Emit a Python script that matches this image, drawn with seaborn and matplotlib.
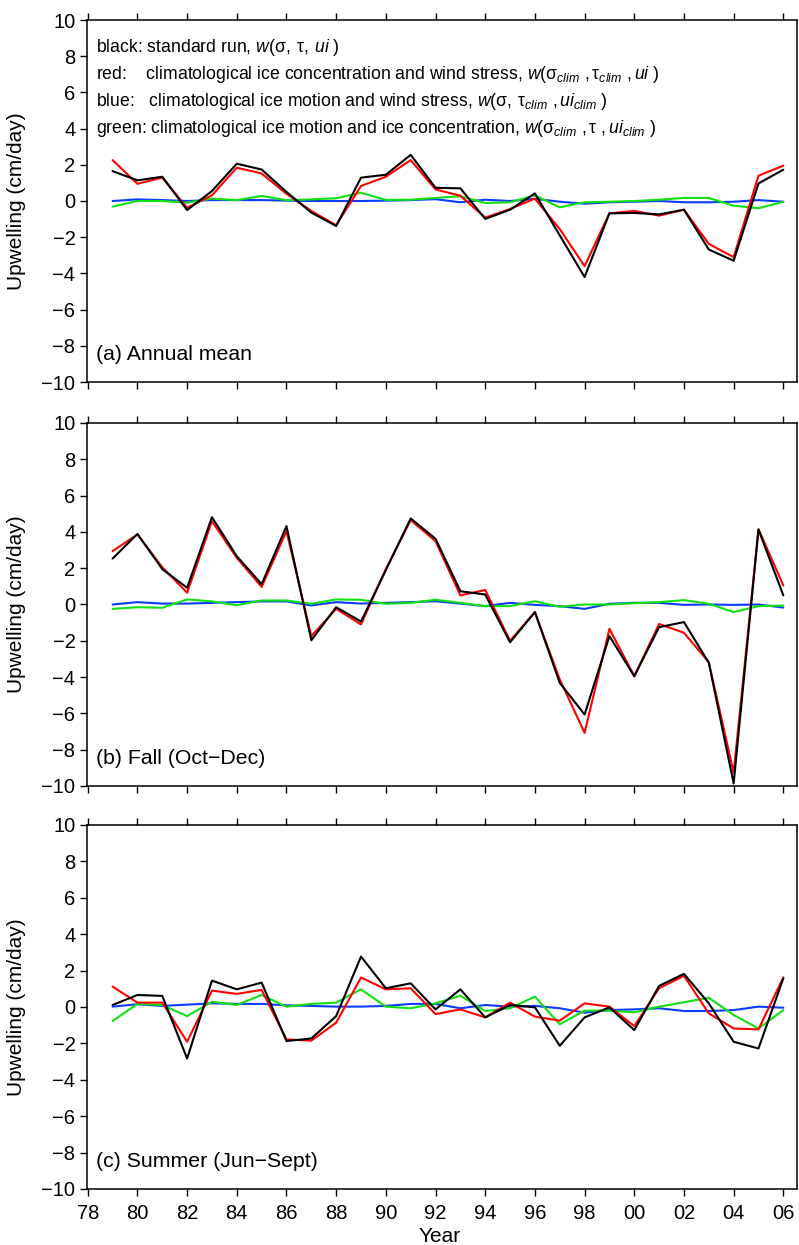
import pandas as pd
import matplotlib
matplotlib.use("Agg")
import matplotlib.pyplot as plt
import seaborn as sns

# years 1979-2006
years = list(range(1979, 2007))

# (a) annual mean
black_a = [1.65, 1.14, 1.34, -0.50, 0.55, 2.06, 1.74, 0.50, -0.64, -1.38, 1.29, 1.45, 2.55, 0.73,
           0.70, -0.99, -0.48, 0.42, -1.90, -4.20, -0.68, -0.66, -0.74, -0.48, -2.68, -3.30, 0.97, 1.73]
red_a = [2.26, 0.95, 1.29, -0.37, 0.31, 1.84, 1.52, 0.40, -0.55, -1.34, 0.83, 1.34, 2.26, 0.64,
         0.29, -0.92, -0.44, 0.13, -1.55, -3.60, -0.68, -0.55, -0.81, -0.48, -2.37, -3.10, 1.40, 1.95]
blue_a = [0.0, 0.09, 0.05, 0.0, 0.05, 0.05, 0.05, 0.02, 0.0, 0.0, 0.0, 0.02, 0.05, 0.10,
          -0.07, 0.07, 0.0, 0.12, -0.04, -0.15, -0.07, -0.04, 0.0, -0.07, -0.07, -0.04, 0.05, -0.04]
green_a = [-0.31, 0.0, 0.0, -0.09, 0.13, 0.05, 0.28, 0.04, 0.09, 0.15, 0.46, 0.06, 0.07, 0.17,
           0.26, -0.11, -0.07, 0.31, -0.35, -0.07, -0.04, 0.0, 0.07, 0.17, 0.17, -0.26, -0.40, -0.04]

# (b) fall
black_b = [2.53, 3.89, 1.95, 0.92, 4.81, 2.66, 1.12, 4.32, -1.97, -0.15, -0.94, 1.90, 4.74, 3.62,
           0.73, 0.55, -2.08, -0.42, -4.32, -6.06, -1.74, -3.95, -1.25, -0.97, -3.21, -9.86, 4.13, 0.50]
red_b = [2.94, 3.86, 2.05, 0.65, 4.59, 2.57, 0.97, 4.04, -1.74, -0.24, -1.10, 1.95, 4.65, 3.49,
         0.50, 0.80, -2.00, -0.42, -4.13, -7.07, -1.34, -3.95, -1.07, -1.56, -3.18, -9.27, 4.15, 1.05]
blue_b = [0.0, 0.13, 0.05, 0.05, 0.09, 0.13, 0.17, 0.17, -0.05, 0.13, 0.05, 0.09, 0.13, 0.18,
          0.05, -0.09, 0.09, -0.02, -0.09, -0.24, 0.04, 0.09, 0.09, -0.02, 0.0, -0.02, 0.0, -0.17]
green_b = [-0.24, -0.15, -0.18, 0.28, 0.17, -0.04, 0.22, 0.22, 0.04, 0.28, 0.26, 0.04, 0.09, 0.26,
           0.09, -0.09, -0.09, 0.18, -0.13, 0.0, 0.0, 0.07, 0.13, 0.24, 0.04, -0.42, -0.09, -0.06]

# (c) summer
black_c = [0.11, 0.66, 0.61, -2.83, 1.45, 0.97, 1.34, -1.87, -1.73, -0.50, 2.77, 1.03, 1.30, -0.13,
           0.97, -0.57, 0.11, -0.02, -2.13, -0.57, -0.02, -1.27, 1.16, 1.82, 0.20, -1.91, -2.28, 1.58]
red_c = [1.12, 0.24, 0.24, -1.91, 0.90, 0.72, 0.94, -1.78, -1.85, -0.86, 1.62, 0.97, 1.03, -0.39,
         -0.13, -0.57, 0.24, -0.53, -0.75, 0.20, 0.02, -1.05, 1.03, 1.71, -0.35, -1.18, -1.23, 1.63]
blue_c = [0.02, 0.15, 0.06, 0.13, 0.20, 0.17, 0.17, 0.09, 0.06, 0.02, 0.02, 0.06, 0.17, 0.17,
          -0.07, 0.11, 0.02, 0.06, -0.07, -0.31, -0.17, -0.13, -0.07, -0.22, -0.22, -0.17, 0.02, -0.04]
green_c = [-0.77, 0.17, 0.11, -0.50, 0.29, 0.11, 0.66, 0.02, 0.17, 0.24, 0.97, 0.02, -0.07, 0.20,
           0.62, -0.22, -0.07, 0.57, -0.95, -0.20, -0.20, -0.29, 0.02, 0.26, 0.51, -0.44, -1.18, -0.17]

panel_titles = ["(a) Annual mean", "(b) Fall (Oct\u2212Dec)", "(c) Summer (Jun\u2212Sept)"]
legend_lines = [
    "black: standard run, " + r"$w(\mathrm{\sigma},\:\mathrm{\tau},\:ui\ )$",
    "red:    climatological ice concentration and wind stress, "
    + r"$w(\mathrm{\sigma}_{clim}\ ,\mathrm{\tau}_{clim}\ ,ui\ )$",
    "blue:   climatological ice motion and wind stress, "
    + r"$w(\mathrm{\sigma},\:\mathrm{\tau}_{clim}\ ,ui_{clim}\ )$",
    "green: climatological ice motion and ice concentration, "
    + r"$w(\mathrm{\sigma}_{clim}\ ,\mathrm{\tau}\ ,ui_{clim}\ )$",
]

sns.set_theme(style="ticks")
plt.rcParams['font.family'] = ['Liberation Sans', 'DejaVu Sans']
plt.rcParams['mathtext.fontset'] = 'custom'
plt.rcParams['mathtext.rm'] = 'Liberation Sans'
plt.rcParams['mathtext.it'] = 'Liberation Sans:italic'
plt.rcParams['axes.linewidth'] = 1.1
plt.rcParams['axes.edgecolor'] = 'black'
plt.rcParams['xtick.color'] = 'black'
plt.rcParams['ytick.color'] = 'black'
plt.rcParams['text.color'] = 'black'

palette = {"blue": "#0a3cff", "green": "#11e011", "red": "#ff0000", "black": "#000000"}
order = ["blue", "green", "red", "black"]

panels = [
    {"black": black_a, "red": red_a, "blue": blue_a, "green": green_a},
    {"black": black_b, "red": red_b, "blue": blue_b, "green": green_b},
    {"black": black_c, "red": red_c, "blue": blue_c, "green": green_c},
]

fig = plt.figure(figsize=(7.99, 12.45), dpi=100)
W, H = 799, 1245
boxes = [(20, 382), (423, 786), (825, 1189)]
left, right = 86.5, 797

for i, (top, bot) in enumerate(boxes):
    ax = fig.add_axes([left / W, 1 - bot / H, (right - left) / W, (bot - top) / H])
    rows = []
    for run in order:
        for y, v in zip(years, panels[i][run]):
            rows.append({"year": y, "value": v, "run": run})
    df = pd.DataFrame(rows)
    sns.lineplot(data=df, x="year", y="value", hue="run", hue_order=order,
                 palette=palette, estimator=None, linewidth=1.5, legend=False, ax=ax)
    ax.set_xlim(1977.95, 2006.55)
    ax.set_ylim(-10, 10)
    ax.set_yticks(range(-10, 11, 2))
    ax.set_xticks(range(1978, 2007, 2))
    ax.set_xticklabels([f"{y % 100:02d}" for y in range(1978, 2007, 2)])
    ax.tick_params(axis="both", direction="out", length=5, width=1.0, labelsize=14.5, pad=3)
    ax.tick_params(axis="x", top=True, labelbottom=(i == 2), pad=6)
    ax.set_xlabel("")
    ax.set_ylabel("")
    ax.text(1978.35, -8.8, panel_titles[i], fontsize=15.3, va="baseline")
    fig.text(17 / W, 1 - (top + bot) / 2 / H, "Upwelling (cm/day)", rotation=90,
             ha="center", va="center", fontsize=15)
    if i == 0:
        for k, line in enumerate(legend_lines):
            ax.text(1978.35, 8.25 - 1.5 * k, line, fontsize=12.7, va="baseline")

fig.text(440 / W, 1 - 1236 / H, "Year", ha="center", va="center", fontsize=15)

fig.savefig("out.png", dpi=100)
